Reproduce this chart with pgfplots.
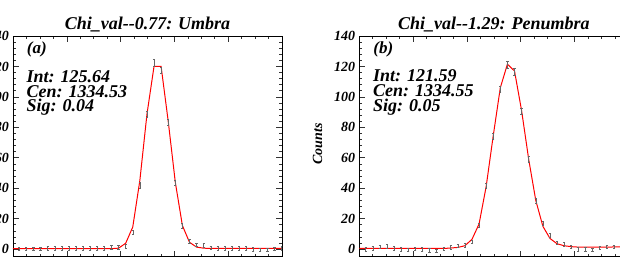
\documentclass[border=0pt]{standalone}
\usepackage{fontspec}
\setmainfont{Liberation Serif}
\usepackage{pgfplots}
\pgfplotsset{compat=1.18}
\usepackage{pgfplotstable}

% x = wavelength - 1334 (Angstrom)
\pgfplotstableread{
x y err
0.0234 0.3 1.2
0.0498 0.3 1.2
0.0761 0.3 1.2
0.1025 0.3 1.2
0.1288 0.4 1.2
0.1552 0.4 1.2
0.1816 0.4 1.2
0.2079 0.4 1.2
0.2343 0.4 1.2
0.2606 0.4 1.2
0.2870 0.4 1.2
0.3134 0.4 1.2
0.3397 0.5 1.2
0.3661 1.1 1.2
0.3924 1.3 1.2
0.4188 2.0 1.2
0.4452 11.0 1.4
0.4715 42.0 1.7
0.4979 88.5 2.0
0.5242 122.5 2.2
0.5506 117.5 2.2
0.5770 83.5 2.0
0.6033 43.5 1.7
0.6297 15.3 1.4
0.6560 5.2 1.2
0.6824 3.0 1.2
0.7088 2.4 1.2
0.7351 0.9 1.2
0.7615 0.4 1.2
0.7878 0.4 1.2
0.8142 0.5 1.2
0.8406 0.4 1.2
0.8669 0.4 1.2
0.8933 -0.2 1.2
0.9196 -0.4 1.2
0.9460 -0.5 1.2
0.9724 0.2 1.2
0.9987 0.8 1.2
}\umbradata

\pgfplotstableread{
x f
0.0000 0.3
0.0234 0.3
0.0498 0.3
0.0761 0.3
0.1025 0.3
0.1288 0.3
0.1552 0.3
0.1816 0.3
0.2079 0.3
0.2343 0.3
0.2606 0.3
0.2870 0.3
0.3134 0.3
0.3397 0.3
0.3661 0.3
0.3924 0.6
0.4188 3.8
0.4452 14.5
0.4715 45.0
0.4979 88.5
0.5242 120.0
0.5506 120.0
0.5770 84.0
0.6033 44.0
0.6297 15.5
0.6560 4.5
0.6824 1.3
0.7088 0.6
0.7351 0.4
0.7615 0.4
0.7878 0.4
0.8142 0.4
0.8406 0.4
0.8669 0.4
0.8933 0.4
0.9196 0.4
0.9460 0.4
0.9724 0.4
0.9987 0.4
1.0000 0.4
}\umbrafit

\pgfplotstableread{
x y err
0.0234 0.0 1.2
0.0498 0.4 1.2
0.0761 1.5 1.2
0.1025 1.7 1.2
0.1288 0.5 1.2
0.1552 0.0 1.2
0.1816 -0.4 1.2
0.2079 0.2 1.2
0.2343 -0.1 1.2
0.2606 -0.8 1.2
0.2870 -1.0 1.2
0.3134 0.2 1.2
0.3397 1.1 1.2
0.3661 2.3 1.2
0.3924 2.7 1.2
0.4188 4.8 1.2
0.4452 15.8 1.4
0.4715 41.7 1.7
0.4979 74.3 1.9
0.5242 105.0 2.0
0.5506 121.0 2.2
0.5770 116.5 2.2
0.6033 90.3 2.0
0.6297 59.0 1.8
0.6560 31.8 1.6
0.6824 16.9 1.4
0.7088 9.2 1.3
0.7351 4.3 1.2
0.7615 3.2 1.2
0.7878 1.6 1.2
0.8142 0.1 1.2
0.8406 -0.1 1.2
0.8669 -0.5 1.2
0.8933 1.0 1.2
0.9196 1.6 1.2
0.9460 1.5 1.2
0.9724 1.6 1.2
0.9987 1.5 1.2
}\penumbradata

\pgfplotstableread{
x f
0.0000 0.4
0.0234 0.4
0.0498 0.4
0.0761 0.4
0.1025 0.4
0.1288 0.4
0.1552 0.4
0.1816 0.4
0.2079 0.4
0.2343 0.4
0.2606 0.4
0.2870 0.4
0.3134 0.4
0.3397 0.7
0.3661 1.1
0.3924 2.2
0.4188 6.4
0.4452 16.5
0.4715 41.0
0.4979 74.5
0.5242 106.0
0.5506 121.5
0.5770 117.0
0.6033 91.0
0.6297 59.0
0.6560 32.0
0.6824 15.0
0.7088 7.0
0.7351 3.5
0.7615 2.2
0.7878 1.6
0.8142 1.3
0.8406 1.3
0.8669 1.3
0.8933 1.3
0.9196 1.3
0.9460 1.4
0.9724 1.4
0.9987 1.4
1.0000 1.4
}\penumbrafit

\pgfplotsset{
  panel/.style={
    scale only axis, width=269pt, height=220.7pt, anchor=south west,
    xmin=0, xmax=1, ymin=-5, ymax=140,
    xtick={0,0.2,0.4,0.6,0.8,1}, minor x tick num=3, xticklabels={},
    ytick={0,20,40,60,80,100,120,140}, minor y tick num=4,
    tick pos=both, tick align=inside,
    major tick length=6pt, minor tick length=3pt,
    axis line style={line width=0.8pt, black},
    every tick/.style={black!80, line width=0.6pt},
    /pgf/number format/assume math mode=true,
    yticklabel style={font=\fontsize{14}{14}\selectfont\bfseries\itshape, inner sep=0pt, xshift=-4pt},
    clip=true,
  },
  fitline/.style={red, line width=1pt, mark=none},
  errpts/.style={draw=none, mark=none, forget plot,
    error bars/.cd, y dir=both, y explicit,
    error bar style={draw=black!60, solid, line width=0.4pt},
    error mark options={rotate=90, mark size=1.1pt, draw=black!60, line width=0.4pt}},
}

\newcommand{\bi}[1]{\fontsize{#1}{#1}\selectfont\bfseries\itshape}

\begin{document}
\begin{tikzpicture}[x=1pt,y=1pt]
\clip (0,0) rectangle (620,271);
\path[use as bounding box] (0,0) rectangle (620,271);

\begin{axis}[panel, at={(13pt,14.3pt)}]
\addplot[fitline] table[x=x,y=f] {\umbrafit};
\addplot[errpts] table[x=x,y=y,y error=err] {\umbradata};
\end{axis}

\begin{axis}[panel, at={(359.3pt,14.3pt)}]
\addplot[fitline] table[x=x,y=f] {\penumbrafit};
\addplot[errpts] table[x=x,y=y,y error=err] {\penumbradata};
\end{axis}

% titles
\node[anchor=base, font=\bi{18}, inner sep=0pt] at (147.5,241) {Chi\_val-{}-0.77: Umbra};
\node[anchor=base, font=\bi{18}, inner sep=0pt] at (493.8,241) {Chi\_val-{}-1.29: Penumbra};

% y label (right panel)
\node[rotate=90, font=\bi{14}, inner sep=0pt] at (317.5,127) {Counts};

% annotations panel (a)
\node[anchor=base west, font=\bi{17}, inner sep=0pt] at (26.7,218) {(a)};
\node[anchor=base west, font=\bi{18}, inner sep=0pt] at (26.5,188.3) {Int: 125.64};
\node[anchor=base west, font=\bi{18}, inner sep=0pt] at (26.5,173.5) {Cen: 1334.53};
\node[anchor=base west, font=\bi{18}, inner sep=0pt] at (26.5,159.2) {Sig: 0.04};

% annotations panel (b)
\node[anchor=base west, font=\bi{17}, inner sep=0pt] at (373.2,218) {(b)};
\node[anchor=base west, font=\bi{18}, inner sep=0pt] at (373.0,189.3) {Int: 121.59};
\node[anchor=base west, font=\bi{18}, inner sep=0pt] at (373.0,174.3) {Cen: 1334.55};
\node[anchor=base west, font=\bi{18}, inner sep=0pt] at (373.0,160.0) {Sig: 0.05};
\end{tikzpicture}
\end{document}
